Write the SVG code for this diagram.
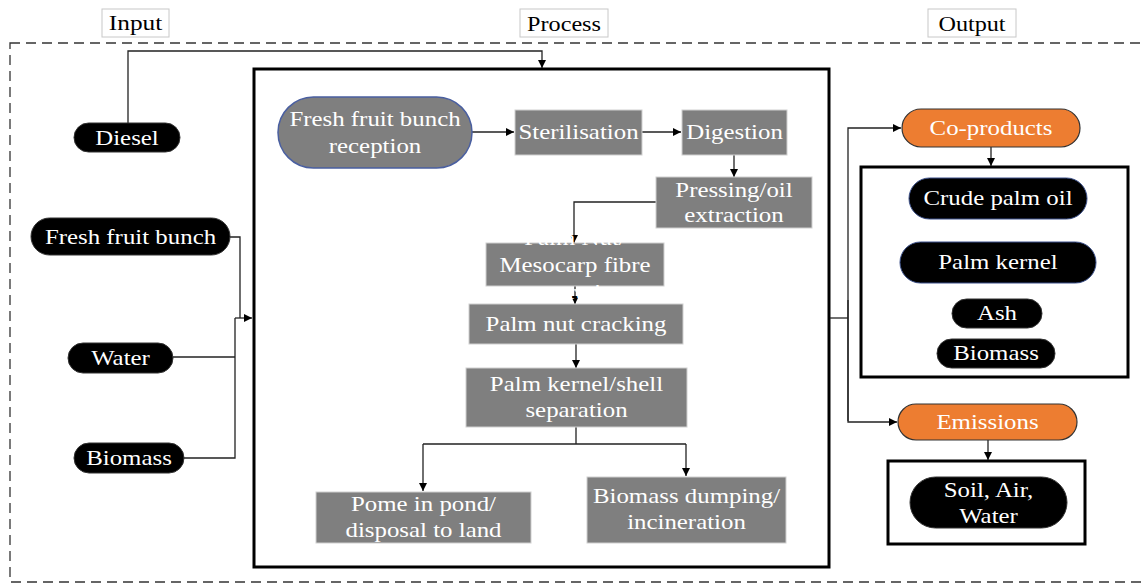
<svg xmlns="http://www.w3.org/2000/svg" width="1145" height="584" viewBox="0 0 1145 584" font-family="'Liberation Serif', 'DejaVu Serif', serif">
<defs>
<marker id="ah" viewBox="0 0 10 10" refX="10" refY="5" markerWidth="8" markerHeight="8" markerUnits="userSpaceOnUse" orient="auto">
<path d="M0,0 L10,5 L0,10 z" fill="#000"/>
</marker>
</defs>
<style>
text{font-family:'Liberation Serif','DejaVu Serif',serif;font-size:22px;text-anchor:middle;dominant-baseline:central}
.hdr rect{fill:#fff;stroke:#c8c8c8;stroke-width:1}
.hdr text{fill:#000;font-size:22px}
.blk rect{fill:#000;stroke:#333;stroke-width:1}
.blk text,.gry text,.org text{fill:#fff}
.gry rect{fill:#7f7f7f;stroke:#d0d0d0;stroke-width:1}
.org rect{fill:#ED7D31;stroke:#333;stroke-width:1.2}
.frame{fill:none;stroke:#000;stroke-width:3}
.con{fill:none;stroke:#222;stroke-width:1.3}
.arr{marker-end:url(#ah)}
</style>
<rect x="10" y="43" width="1160" height="539" fill="none" stroke="#333" stroke-width="1.3" stroke-dasharray="10,6"/>
<g id="hdr-input" class="hdr"><rect x="102" y="9" width="67" height="28"/><text transform="translate(135.5,23) scale(1.15,1)">Input</text></g>
<g id="hdr-process" class="hdr"><rect x="520" y="9" width="88" height="28"/><text transform="translate(564,23) scale(1.1,1)">Process</text></g>
<g id="hdr-output" class="hdr"><rect x="928" y="9" width="88" height="28"/><text transform="translate(972,23) scale(1.1,1)">Output</text></g>

<g id="process-frame"><rect class="frame" x="254" y="69" width="575" height="498"/></g>
<g id="coprod-frame"><rect class="frame" x="861" y="167" width="267" height="210"/></g>
<g id="emis-frame"><rect class="frame" x="888" y="461" width="197" height="83"/></g>

<g id="connectors">
<path class="con arr" d="M128,123 V51 H542 V68"/>
<path class="con" d="M230,237 H240 V318"/>
<path class="con" d="M173,357 H235"/>
<path class="con" d="M184,458 H235 V318"/>
<path class="con arr" d="M235,318 H252"/>
<path class="con arr" d="M472,132 H514"/>
<path class="con arr" d="M642,132 H681"/>
<path class="con arr" d="M734,155 V177"/>
<path class="con arr" d="M656,202 H574 V243"/>
<path class="con arr" d="M575,286 V304"/>
<path class="con arr" d="M576,344 V368"/>
<path class="con" d="M576,427 V444 M423,444 H686"/>
<path class="con arr" d="M423,444 V491"/>
<path class="con arr" d="M686,444 V476"/>
<path class="con" d="M830,318 H848"/>
<path class="con arr" d="M848,421 V128 H901"/>
<path class="con arr" d="M848,300 V422 H897"/>
<path class="con arr" d="M991,147 V166"/>
<path class="con arr" d="M988,440 V460"/>
</g>

<g id="diesel" class="blk"><rect x="74" y="123" width="106" height="29" rx="14.5"/><text transform="translate(127,138) scale(1.13,1)">Diesel</text></g>
<g id="ffb" class="blk"><rect x="31" y="218" width="199" height="37" rx="18.5"/><text transform="translate(130.5,237) scale(1.13,1)">Fresh fruit bunch</text></g>
<g id="water" class="blk"><rect x="68" y="343" width="105" height="30" rx="15"/><text transform="translate(120.5,358) scale(1.13,1)">Water</text></g>
<g id="biomass-in" class="blk"><rect x="74" y="443" width="110" height="30" rx="15"/><text transform="translate(129,458) scale(1.13,1)">Biomass</text></g>

<g id="ffb-reception" class="gry"><rect x="278" y="97" width="194" height="71" rx="35.5" style="stroke:#4a5fa0;stroke-width:1.5"/><text transform="translate(375,119) scale(1.13,1)">Fresh fruit bunch</text><text transform="translate(375,146) scale(1.13,1)">reception</text></g>
<g id="sterilisation" class="gry"><rect x="515" y="110" width="127" height="45"/><text transform="translate(578.5,132) scale(1.13,1)">Sterilisation</text></g>
<g id="digestion" class="gry"><rect x="682" y="110" width="105" height="45"/><text transform="translate(734.5,132) scale(1.13,1)">Digestion</text></g>
<g id="pressing" class="gry"><rect x="656" y="177" width="156" height="51"/><text transform="translate(734,190) scale(1.13,1)">Pressing/oil</text><text transform="translate(734,215) scale(1.13,1)">extraction</text></g>
<g id="mesocarp" class="gry"><rect x="486" y="243" width="178" height="43"/><text transform="translate(575,238) scale(1.13,1)">Palm Nut/</text><text transform="translate(575,265) scale(1.13,1)">Mesocarp fibre</text><text transform="translate(575,292) scale(1.13,1)">separation</text></g>
<g id="cracking" class="gry"><rect x="469" y="304" width="214" height="40"/><text transform="translate(576,324) scale(1.13,1)">Palm nut cracking</text></g>
<g id="kernel-sep" class="gry"><rect x="466" y="368" width="221" height="59"/><text transform="translate(576.5,384) scale(1.13,1)">Palm kernel/shell</text><text transform="translate(576.5,410) scale(1.13,1)">separation</text></g>
<g id="pome" class="gry"><rect x="316" y="492" width="215" height="51"/><text transform="translate(423.5,504) scale(1.13,1)">Pome in pond/</text><text transform="translate(423.5,530) scale(1.13,1)">disposal to land</text></g>
<g id="biomass-dump" class="gry"><rect x="587" y="477" width="199" height="66"/><text transform="translate(686.5,496) scale(1.13,1)">Biomass dumping/</text><text transform="translate(686.5,522) scale(1.13,1)">incineration</text></g>

<g id="coproducts" class="org"><rect x="902" y="109" width="178" height="38" rx="19"/><text transform="translate(991,128) scale(1.13,1)">Co-products</text></g>
<g id="cpo" class="blk"><rect x="909" y="178" width="178" height="41" rx="20.5" style="stroke:#3a4f8a"/><text transform="translate(998,198) scale(1.13,1)">Crude palm oil</text></g>
<g id="pk" class="blk"><rect x="900" y="242" width="196" height="41" rx="20.5" style="stroke:#3a4f8a"/><text transform="translate(998,262) scale(1.13,1)">Palm kernel</text></g>
<g id="ash" class="blk"><rect x="952" y="299" width="90" height="29" rx="14.5"/><text transform="translate(997,313) scale(1.13,1)">Ash</text></g>
<g id="biomass-out" class="blk"><rect x="937" y="339" width="118" height="29" rx="14.5"/><text transform="translate(996,353) scale(1.13,1)">Biomass</text></g>

<g id="emissions" class="org"><rect x="898" y="404" width="179" height="36" rx="18"/><text transform="translate(987.5,422) scale(1.13,1)">Emissions</text></g>
<g id="soil" class="blk"><rect x="910" y="477" width="157" height="51" rx="25.5"/><text transform="translate(988.5,490) scale(1.13,1)">Soil, Air,</text><text transform="translate(988.5,516) scale(1.13,1)">Water</text></g>
</svg>
